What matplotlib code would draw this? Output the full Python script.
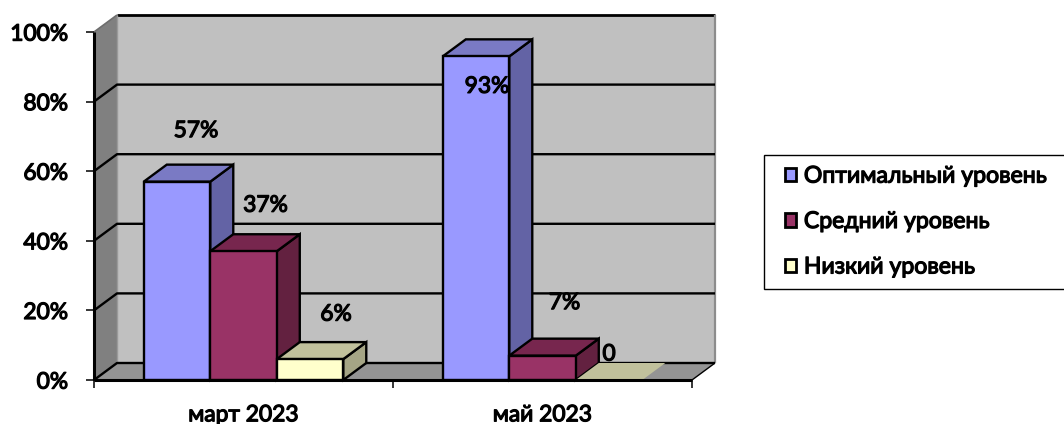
import matplotlib
matplotlib.use("Agg")
import matplotlib.pyplot as plt
import matplotlib.patheffects as pe
from matplotlib.patches import Polygon, Rectangle, Patch

categories = ["март 2023", "май 2023"]
series_names = ["Оптимальный уровень", "Средний уровень", "Низкий уровень"]
optimal = [57, 93]
medium = [37, 7]
low = [6, 0]
label_texts = [["57%", "93%"], ["37%", "7%"], ["6%", "0"]]
y_ticks = [0, 20, 40, 60, 80, 100]

W, H = 1064, 424
plt.rcParams["font.family"] = ["Lato", "DejaVu Sans"]
fig = plt.figure(figsize=(W / 100, H / 100), dpi=100)
L, R, B, T = 94, 692, 380, 32
ax = fig.add_axes([L / W, 1 - B / H, (R - L) / W, (B - T) / H])
ax.set_xlim(0, 2)
ax.set_ylim(0, 100)
ax.axis("off")

DX = 23 / ((R - L) / 2)     # depth in category units
DY = 17 / ((B - T) / 100)   # depth in value units
BW = 0.2224
START = 0.1665
FS = 16.4
BOLD = [pe.withStroke(linewidth=0.9, foreground="black")]

def poly(pts, fc, ec="black", lw=1.7, z=1):
    ax.add_patch(Polygon(pts, closed=True, fc=fc, ec=ec, lw=lw, zorder=z,
                         clip_on=False, joinstyle="miter"))

def line(xs, ys, c="black", lw=1.7, z=2):
    ax.plot(xs, ys, color=c, lw=lw, zorder=z, clip_on=False, solid_capstyle="butt")

# Walls and floor
poly([(DX, DY), (2 + DX, DY), (2 + DX, 100 + DY), (DX, 100 + DY)], "#C0C0C0", ec="none", z=1)
poly([(0, 0), (DX, DY), (DX, 100 + DY), (0, 100)], "#808080", ec="none", z=1)
poly([(0, 0), (2, 0), (2 + DX, DY), (DX, DY)], "#949494", ec="none", z=1)
line([DX, 2 + DX], [100 + DY, 100 + DY], lw=2)
line([2 + DX, 2 + DX], [DY, 100 + DY], c="#8C8C8C", lw=1.6)
line([0, DX], [100, 100 + DY], c="#6E6E6E", lw=1.2)
line([DX, DX], [DY, 100 + DY], c="#9A9A9A", lw=1)

# Gridlines
for v in y_ticks[:-1]:
    line([0, DX, 2 + DX], [v, v + DY, v + DY], z=2)

# Bars
front = ["#9999FF", "#993366", "#FFFFCC"]
top = ["#7A7AC4", "#77264E", "#C1C19C"]
side = ["#6363A5", "#632140", "#A5A585"]
values = [optimal, medium, low]
for c in range(len(categories)):
    for s in [0, 1, 2]:
        v = values[s][c]
        x0 = c + START + s * BW
        x1 = x0 + BW
        z = 3 + s
        lw = 1.7 if v > 0 else 0
        poly([(x1, 0), (x1 + DX, DY), (x1 + DX, v + DY), (x1, v)], side[s], lw=lw, z=z)
        poly([(x0, v), (x1, v), (x1 + DX, v + DY), (x0 + DX, v + DY)], top[s], lw=lw, z=z)
        if v > 0:
            poly([(x0, 0), (x1, 0), (x1, v), (x0, v)], front[s], lw=lw, z=z)

# Axes lines and ticks
line([0, 0], [0, 100], lw=2.2, z=8)
line([0, 2], [0, 0], lw=2.2, z=8)
line([2, 2 + DX], [0, DY], lw=1, z=2)
for v in y_ticks:
    line([-8 / ((R - L) / 2), 0], [v, v], lw=1.1, z=8)
    ax.text(-26 / ((R - L) / 2), v - 0.6, f"{v}%", ha="right", va="center",
            fontsize=FS, color="black", path_effects=BOLD)
for x in [0, 1, 2]:
    line([x, x], [0, -2.2], lw=1.1, z=8)
for c, name in enumerate(categories):
    ax.text(c + 0.5, -10.0, name, ha="center", va="center", fontsize=FS,
            color="black", clip_on=False, path_effects=BOLD)

# Data labels, offset by hand from the top of each bar as in the source
label_px = [[(19, 51), (11, -30)],
            [(22, 46), (22, 53)],
            [(26, 45), (0, 26)]]
for s in range(3):
    for c in range(2):
        x = c + START + s * BW + BW / 2
        dx, dy = label_px[s][c]
        ax.annotate(label_texts[s][c], (x, values[s][c]), xytext=(dx * 0.72, dy * 0.72),
                    textcoords="offset points", ha="center", va="center",
                    fontsize=FS, color="black", zorder=9,
                    annotation_clip=False, path_effects=BOLD)

# Legend
fig.add_artist(Rectangle((763.5 / W, 1 - 288.5 / H), 320 / W, 134 / H, transform=fig.transFigure,
                         fc="white", ec="black", lw=1))
handles = [Patch(fc=front[i], ec="black", lw=2.0, label=series_names[i]) for i in range(3)]
leg = fig.legend(handles=handles, loc="center left", bbox_to_anchor=(784.5 / W, 1 - 221.5 / H),
                 frameon=False, fontsize=16.6, handlelength=0.52, handleheight=0.52,
                 handletextpad=0.32, labelspacing=1.06, borderpad=0, borderaxespad=0)
for t in leg.get_texts():
    t.set_path_effects(BOLD)
fig.savefig("out.png", dpi=100)
